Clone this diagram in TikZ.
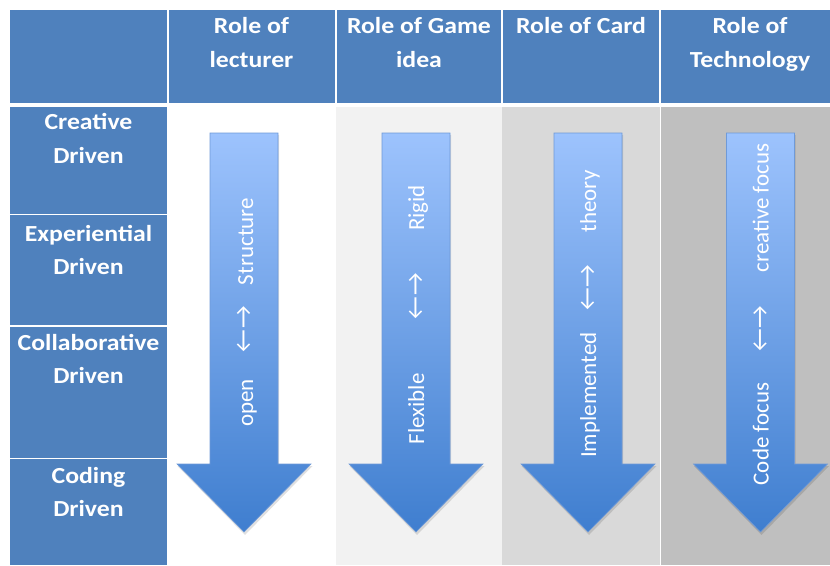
\documentclass[tikz,border=0pt]{standalone}
\usepackage{fontspec}
\setmainfont{Carlito}
\newfontfamily\hdrfont[FakeStretch=1.12]{Carlito}
\definecolor{hdrblue}{HTML}{4F81BD}
\definecolor{bgA}{HTML}{F2F2F2}
\definecolor{bgB}{HTML}{D9D9D9}
\definecolor{bgC}{HTML}{BFBFBF}
\definecolor{arrtop}{HTML}{9DC3FD}
\definecolor{arrbot}{HTML}{3F7ECF}
\definecolor{arredge}{HTML}{6F9AD8}
\begin{document}
\begin{tikzpicture}[x=1pt,y=-1pt,
  hdr/.style={text=white,font=\hdrfont\fontsize{23}{26}\selectfont\bfseries,anchor=base,inner sep=0pt},
  lbl/.style={text=white,font=\fontsize{23}{26}\selectfont,anchor=base,rotate=90,inner sep=0pt},
  arr/.style={text=white,font=\fontsize{25}{28}\selectfont,anchor=center,rotate=90,inner sep=0pt},
  cell/.style={fill=hdrblue,draw=none}]
\useasboundingbox (0,0) rectangle (830,565);
\fill[white] (0,0) rectangle (830,565);
% body column backgrounds
\fill[bgA] (336,107) rectangle (502,565);
\fill[bgB] (502,107) rectangle (659.5,565);
\fill[bgC] (661,107) rectangle (830,565);
% header cells
\fill[cell] (10,10) rectangle (167,103);
\fill[cell] (168.5,10) rectangle (335,103);
\fill[cell] (337,10) rectangle (501,103);
\fill[cell] (503,10) rectangle (659,103);
\fill[cell] (661,10) rectangle (830,103);
% row header cells
\fill[cell] (10,107) rectangle (167,213.5);
\fill[cell] (10,215) rectangle (167,325);
\fill[cell] (10,327) rectangle (167,457.5);
\fill[cell] (10,459) rectangle (167,565);
% header texts
\node[hdr] (h1a) at (251.5,33) {Role of};
\node[hdr] (h1b) at (251.5,67) {lecturer};
\node[hdr] (h2a) at (419,33) {Role of Game};
\node[hdr] (h2b) at (419,67) {idea};
\node[hdr] (h3a) at (581,33) {Role of Card};
\node[hdr] (h4a) at (750,33) {Role of};
\node[hdr] (h4b) at (750,67) {Technology};
% row texts
\node[hdr] (r1a) at (88.5,129) {Creative};
\node[hdr] (r1b) at (88.5,163) {Driven};
\node[hdr] (r2a) at (88.5,241) {Experiential};
\node[hdr] (r2b) at (88.5,274) {Driven};
\node[hdr] (r3a) at (88.5,350) {Collaborative};
\node[hdr] (r3b) at (88.5,383) {Driven};
\node[hdr] (r4a) at (88.5,483) {Coding};
\node[hdr] (r4b) at (88.5,516) {Driven};
% arrows
\foreach \cx in {244,416,588,760.5}{
  \fill[black,opacity=0.12] (\cx-34+1,133+2) -- (\cx+34+1,133+2) -- (\cx+34+1,464+2) -- (\cx+67+1.5,464+2) -- (\cx+1,532+3) -- (\cx-67+0.5,464+2) -- (\cx-34+1,464+2) -- cycle;
  \shade[top color=arrtop,bottom color=arrbot,draw=arredge,line width=0.6pt]
    (\cx-34,133) -- (\cx+34,133) -- (\cx+34,464) -- (\cx+67,464) -- (\cx,532) -- (\cx-67,464) -- (\cx-34,464) -- cycle;
}
% arrow labels
\node[lbl] (t1a) at (253,241.5) {Structure};
\node[arr] (t1b) at (244,329) {←\hspace{1pt}→};
\node[lbl] (t1c) at (253,403) {open};
\node[lbl] (t2a) at (424,208) {Rigid};
\node[arr] (t2b) at (416,296) {←\hspace{1pt}→};
\node[lbl] (t2c) at (424,409) {Flexible};
\node[lbl] (t3a) at (596,201.5) {theory};
\node[arr] (t3b) at (588,287.5) {←\hspace{1pt}→};
\node[lbl] (t3c) at (596,395) {Implemented};
\node[lbl] (t4a) at (768.5,208) {creative focus};
\node[arr] (t4b) at (760.5,328.5) {←\hspace{1pt}→};
\node[lbl] (t4c) at (768.5,434) {Code focus};
\end{tikzpicture}
\end{document}
